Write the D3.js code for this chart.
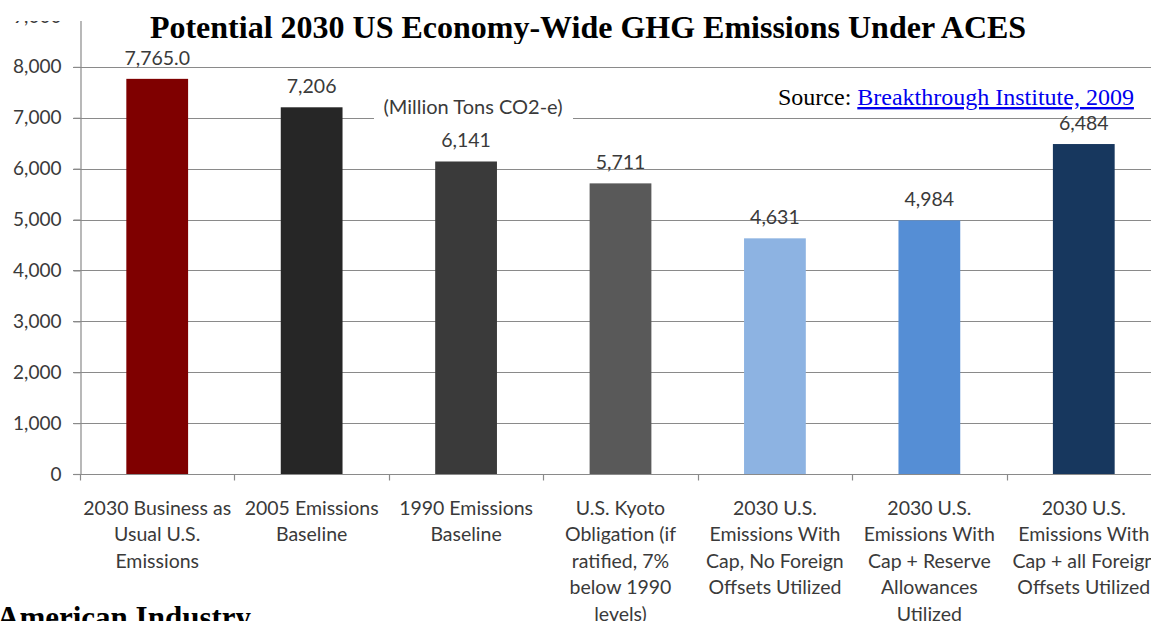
<!DOCTYPE html>
<html>
<head>
<meta charset="utf-8">
<script src="https://cdn.jsdelivr.net/npm/d3@7"></script>
<style>
  html, body { margin: 0; padding: 0; background: #fff; overflow: hidden; }
  svg { display: block; }
</style>
</head>
<body>
<svg id="chart" width="1151" height="621"></svg>
<script>
// Categories, values and tick labels
const categories = [
  ["2030 Business as", "Usual U.S.", "Emissions"],
  ["2005 Emissions", "Baseline"],
  ["1990 Emissions", "Baseline"],
  ["U.S. Kyoto", "Obligation (if", "ratified, 7%", "below 1990", "levels)"],
  ["2030 U.S.", "Emissions With", "Cap, No Foreign", "Offsets Utilized"],
  ["2030 U.S.", "Emissions With", "Cap + Reserve", "Allowances", "Utilized"],
  ["2030 U.S.", "Emissions With", "Cap + all Foreign", "Offsets Utilized"]
];
const values = [7765.0, 7206, 6141, 5711, 4631, 4984, 6484];
const valueLabels = ["7,765.0", "7,206", "6,141", "5,711", "4,631", "4,984", "6,484"];
const barColors = ["#7f0000", "#262626", "#3a3a3a", "#595959", "#8db3e2", "#558ed5", "#17375e"];
const yTicks = [0, 1000, 2000, 3000, 4000, 5000, 6000, 7000, 8000, 9000];

const svg = d3.select("#chart");
const W = 1151, H = 621;
const plotLeft = 80, plotRight = 1161, plotTop = 16, plotBottom = 474;
const sans = "Lato, 'Open Sans', sans-serif";
const serif = "'Liberation Serif', 'Times New Roman', serif";
const textColor = "#3a3a3a";

const x = d3.scaleBand().domain(d3.range(categories.length)).range([plotLeft, plotRight]).paddingInner(0.6).paddingOuter(0.3);
const xStep = d3.scaleBand().domain(d3.range(categories.length)).range([plotLeft, plotRight]);
const y = d3.scaleLinear().domain([0, 9000]).range([plotBottom, plotTop]);

// Chart area is clipped below the title strip
const defs = svg.append("defs");
defs.append("clipPath").attr("id", "plotClip")
  .append("rect").attr("x", 0).attr("y", 21).attr("width", W).attr("height", H - 21);
defs.append("clipPath").attr("id", "titleClip")
  .append("rect").attr("x", 0).attr("y", 0).attr("width", W).attr("height", 44);

// Bottom-left caption (partly off the page)
svg.append("text")
  .attr("x", -3).attr("y", 628)
  .attr("font-family", serif).attr("font-weight", "bold").attr("font-size", 31)
  .attr("fill", "#000")
  .text("American Industry");

const g = svg.append("g").attr("clip-path", "url(#plotClip)");

// Gridlines
g.append("g").selectAll("line").data(yTicks.filter(d => d > 0)).join("line")
  .attr("x1", plotLeft - 7).attr("x2", W)
  .attr("y1", d => Math.round(y(d)) + 0.5).attr("y2", d => Math.round(y(d)) + 0.5)
  .attr("stroke", "#8a8a8a").attr("stroke-width", 1.2);

// Y axis
const yAxis = d3.axisLeft(y).tickValues(yTicks).tickSize(7).tickPadding(12).tickFormat(d3.format(","));
const ya = g.append("g").attr("transform", `translate(${plotLeft + 0.5},0)`).call(yAxis);
ya.select(".domain").attr("stroke", "#8a8a8a").attr("stroke-width", 1.2);
ya.selectAll(".tick line").attr("stroke", "#8a8a8a").attr("stroke-width", 1.2);
ya.selectAll(".tick text").attr("font-family", sans).attr("font-size", 19).attr("fill", textColor);

// X axis line and category tick marks
const xa = g.append("g").attr("transform", `translate(0,${plotBottom + 0.5})`);
xa.append("line").attr("x1", plotLeft - 7).attr("x2", W).attr("stroke", "#8a8a8a").attr("stroke-width", 1.2);
xa.selectAll("line.tk").data(d3.range(categories.length + 1)).join("line").attr("class", "tk")
  .attr("x1", i => Math.round(plotLeft + i * xStep.step()) + 0.5)
  .attr("x2", i => Math.round(plotLeft + i * xStep.step()) + 0.5)
  .attr("y1", 0).attr("y2", 6)
  .attr("stroke", "#8a8a8a").attr("stroke-width", 1.2);

// Unit label with a white box over the gridline
const unitG = g.append("g");
unitG.append("rect").attr("x", 374).attr("y", 95).attr("width", 199).attr("height", 27).attr("fill", "#fff");
unitG.append("text").attr("x", 473).attr("y", 114)
  .attr("text-anchor", "middle").attr("font-family", sans).attr("font-size", 20).attr("fill", textColor)
  .text("(Million Tons CO2-e)");

// Bars
g.append("g").selectAll("rect").data(values).join("rect")
  .attr("x", (d, i) => x(i)).attr("width", x.bandwidth())
  .attr("y", d => y(d)).attr("height", d => y(0) - y(d))
  .attr("fill", (d, i) => barColors[i]);

// Value labels
g.append("g").selectAll("text").data(values).join("text")
  .attr("x", (d, i) => x(i) + x.bandwidth() / 2)
  .attr("y", d => y(d) - 14)
  .attr("text-anchor", "middle").attr("font-family", sans).attr("font-size", 19.5).attr("fill", textColor)
  .text((d, i) => valueLabels[i]);

// Category labels
const cl = g.append("g").selectAll("text").data(categories).join("text")
  .attr("text-anchor", "middle").attr("font-family", sans).attr("font-size", 19.5).attr("fill", textColor);
cl.each(function(lines, i) {
  const cx = x(i) + x.bandwidth() / 2;
  d3.select(this).selectAll("tspan").data(lines).join("tspan")
    .attr("x", cx).attr("y", (d, j) => 515 + j * 26.4).text(d => d);
});

// Source note
const src = svg.append("text").attr("x", 778).attr("y", 105)
  .attr("font-family", serif).attr("font-size", 24).attr("fill", "#000");
src.append("tspan").text("Source: ");
src.append("tspan").attr("fill", "#0000ee").attr("text-decoration", "underline").text("Breakthrough Institute, 2009");

// Title
svg.append("text")
  .attr("clip-path", "url(#titleClip)")
  .attr("x", 588).attr("y", 38)
  .attr("text-anchor", "middle")
  .attr("font-family", serif).attr("font-weight", "bold").attr("font-size", 32).attr("fill", "#000")
  .text("Potential 2030 US Economy-Wide GHG Emissions Under ACES");
</script>
</body>
</html>
